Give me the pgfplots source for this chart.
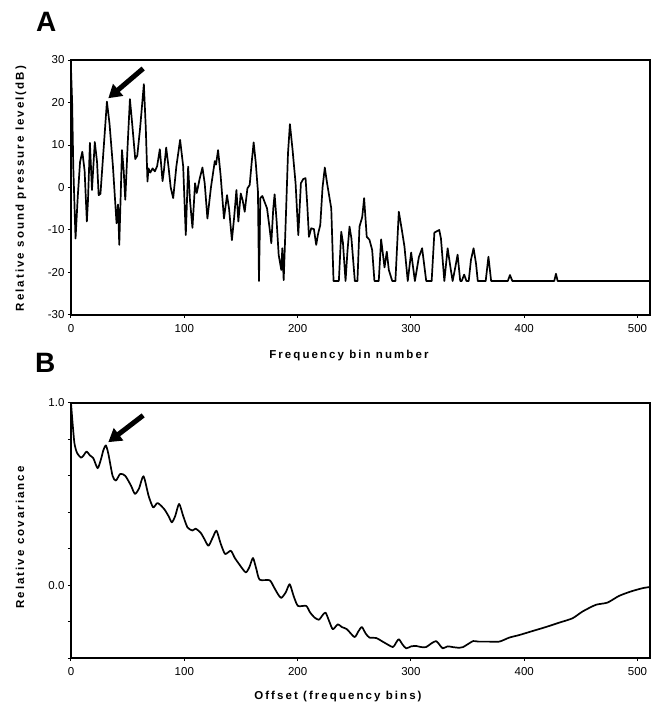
\documentclass[border=0pt]{standalone}
\usepackage{fontspec}
\setmainfont{Liberation Sans}
\newfontfamily\lblfont[LetterSpace=18, UprightFont={* Bold}, BoldFont={* Bold}]{Liberation Sans}
\usepackage{pgfplots}
\pgfplotsset{compat=1.18}
\usepackage{pgfplotstable}
\usetikzlibrary{arrows.meta}

\pgfplotstableread{
bin db
0 28
1 20
2 5
4 -12
6 -2
8 6
10 8.4
12 4
14 -8
15 -3
16.7 10.5
18.5 -0.6
21 10.7
23 6
24.4 -1.8
26 -1.5
28.5 8
31.7 20.2
34 15
37 5
40.2 -8.4
41.5 -4
42.6 -13.5
45 8.8
46.5 4
47.9 -2.9
50 10
52 20.8
54 15
56.7 6.7
58.5 7.5
61 14
64.3 24.3
66 14
67.5 1.4
68.4 4.5
70 3.5
72 4.5
74 3.8
76 5
78.4 9
80.8 1.5
82 4
84 9.4
86 5
88 0
90.2 -2.5
93 5
96.3 11.2
99 5
101.3 -11.2
103.4 4.9
105 -3
107.2 -9.5
109.5 1
111 -1.3
113.5 2
116 4.7
118 1
120.4 -7.3
123.5 0
126.9 6.2
128 5.4
129.8 8.8
132 3
135 -7.3
137.7 -1.8
139.5 -5
142 -12.4
144 -7
146 -0.6
147.7 -8
149.8 -1.4
151.5 -3
153.3 -5.7
155.7 -0.2
157.7 0.6
159.5 6
161.2 10.6
163 6
165 -1
165.9 -22
167.1 -2.5
168.9 -2
171 -3.5
173 -4.9
175 -9
176.8 -13.1
178.5 -5
179.7 -1.6
181.5 -8
183.3 -15.9
185.6 -19.4
186.5 -14.3
187.7 -21.8
189.5 -8
191.5 8
193.2 14.9
195.5 9
198.2 1
200.6 -11.2
202.9 1
205 2
207 2.2
208.5 -4
210 -11.6
212 -9.6
214.4 -9.8
216.4 -13.5
218 -11
220 -8.8
222 0
224 4.7
226 1
229.7 -4.9
231.7 -22
236.4 -22
238.5 -10.4
240 -13
242.3 -22
244 -15
245.8 -9.2
247.5 -12
250.5 -22
252.8 -22
254.6 -9.2
257 -7
258.7 -2.5
261 -11.6
263.4 -12.3
265.8 -14.7
267.8 -22
271.6 -22
273.7 -12.2
276.7 -18.8
278.7 -15.1
280.5 -19.4
283.5 -22
286.3 -22
289.3 -5.7
292 -10
294.3 -13.9
297.2 -22
300.2 -15.3
303.5 -22
307 -16.4
309.9 -14.3
313.5 -22
318.3 -22
320.7 -10.6
325 -10
326.5 -12
329.5 -22
332.4 -14.3
335 -19
336.8 -22
339 -19
341.2 -15.8
343.5 -22
344.8 -22
347 -20.5
349 -22
351 -22
353 -17
355.3 -14.3
357.5 -18
359 -22
366 -22
368.4 -16.3
370.8 -22
385.5 -22
387.4 -20.6
389.5 -22
426.5 -22
428 -20.3
429.5 -22
511 -22
}\dataA

\pgfplotstableread{
bin cov
0 1.0
1 0.92
2.9 0.785
4.5 0.74
5.9 0.72
8.8 0.70
10.9 0.71
13.8 0.734
16.7 0.712
19.7 0.697
23.5 0.642
26.4 0.69
28.5 0.74
30.8 0.767
33 0.72
36.7 0.60
39.6 0.574
43.5 0.611
47.9 0.60
52.9 0.547
56.4 0.501
60 0.53
64 0.598
68.5 0.49
72.5 0.427
76.4 0.451
82.2 0.418
86 0.38
89 0.345
92 0.38
95.4 0.446
99 0.38
102.8 0.317
107.2 0.30
110 0.31
114.5 0.287
118 0.25
121.3 0.216
125 0.26
128.4 0.299
132 0.23
136 0.171
141 0.189
144.5 0.15
148.3 0.116
154.2 0.07
157.5 0.10
160.6 0.149
163.5 0.09
166.5 0.03
175.3 0.027
179 -0.01
182.7 -0.05
185.6 -0.07
189.5 -0.04
193 0.005
196.5 -0.06
200.3 -0.114
207.6 -0.114
211 -0.15
215 -0.178
218.8 -0.19
222 -0.165
224.7 -0.151
228 -0.2
231.1 -0.242
235.5 -0.215
239 -0.23
243.5 -0.242
250.2 -0.285
253.5 -0.255
256.7 -0.23
260 -0.265
263.4 -0.288
269.3 -0.29
276.7 -0.316
284 -0.34
286.5 -0.32
289.3 -0.297
292.5 -0.325
295.8 -0.347
300.2 -0.336
304.6 -0.334
309 -0.34
313.4 -0.34
318 -0.32
322.2 -0.307
325 -0.325
328 -0.347
332.4 -0.336
336.8 -0.34
342.7 -0.344
346 -0.34
350 -0.325
355 -0.307
359.5 -0.31
368 -0.31
378 -0.31
386.8 -0.288
395.6 -0.274
407.3 -0.252
419.1 -0.23
430.8 -0.206
442.6 -0.182
451.4 -0.145
463.2 -0.108
473.4 -0.096
483.7 -0.059
494 -0.035
504.2 -0.017
511 -0.01
}\dataB

\pgfplotsset{
  every axis/.style={
    scale only axis,
    width=579pt, height=255pt,
    xmin=0, xmax=511,
    xtick={0,100,200,300,400,500},
    axis line style={line width=1.3pt},
    tick style={line width=1pt, black},
    tick align=outside,
    major tick length=3pt,
    minor tick length=3pt,
    xtick pos=bottom, ytick pos=left,
    tick label style={font=\fontsize{11.5}{13}\selectfont},
    xticklabel style={yshift=-3pt},
    /pgf/number format/assume math mode=true,
    label style={font=\lblfont\fontsize{11.5}{13}\selectfont},
  },
}

\begin{document}
\begin{tikzpicture}
\path[use as bounding box] (0,0) rectangle (651pt,702pt);

\begin{axis}[
  at={(71pt,387pt)}, anchor=south west,
  ymin=-30, ymax=30,
  ytick={-30,-20,...,30},
  xlabel={Frequency bin number},
  ylabel={Relative sound pressure level(dB)},
  xlabel style={at={(axis description cs:0.48,-0.169)}, anchor=base},
  ylabel style={at={(axis description cs:-0.0864,0.496)}, anchor=center},
]
\addplot[black, line width=1.7pt, line join=round] table[x=bin, y=db] {\dataA};
\draw[black, line width=5pt, -{Triangle[length=13pt, width=15pt]}] (axis cs:63.7,28) -- (axis cs:32.9,21);
\end{axis}

\begin{axis}[
  at={(71pt,44pt)}, anchor=south west,
  ymin=-0.4, ymax=1.0,
  ytick={0,1},
  yticklabels={0.0,1.0},
  minor ytick={-0.4,-0.2,0.2,0.4,0.6,0.8},
  xlabel={Offset (frequency bins)},
  ylabel={Relative covariance},
  xlabel style={at={(axis description cs:0.461,-0.161)}, anchor=base},
  ylabel style={at={(axis description cs:-0.088,0.4725)}, anchor=center},
]
\addplot[black, line width=1.7pt, smooth, tension=0.4, line join=round] table[x=bin, y=cov] {\dataB};
\draw[black, line width=5pt, -{Triangle[length=13pt, width=15pt]}] (axis cs:63.7,0.932) -- (axis cs:32.9,0.785);
\end{axis}

\node[anchor=base west, font=\bfseries\fontsize{28}{30}\selectfont, inner sep=0pt] at (36pt,670pt) {A};
\node[anchor=base west, font=\bfseries\fontsize{28}{30}\selectfont, inner sep=0pt] at (35pt,329pt) {B};
\end{tikzpicture}
\end{document}
